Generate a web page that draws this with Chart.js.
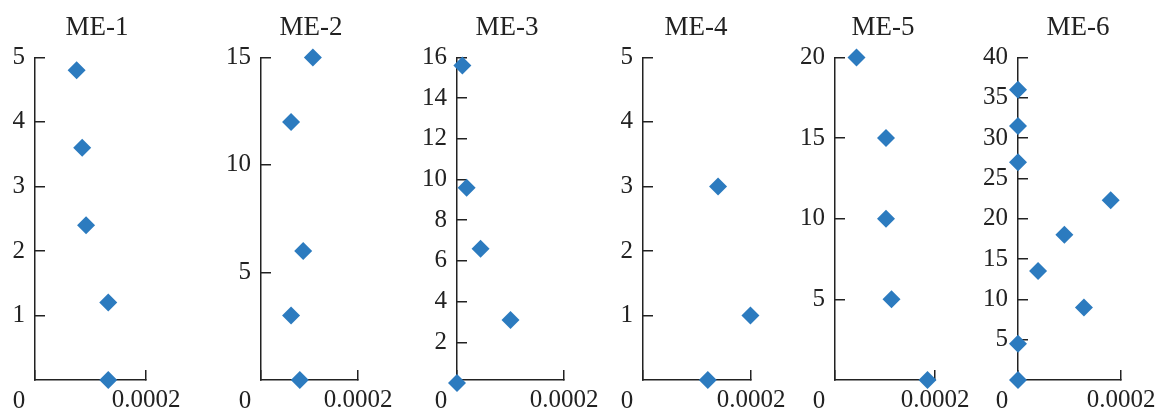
<!DOCTYPE html>
<html>
<head>
<meta charset="utf-8">
<script src="https://cdn.jsdelivr.net/npm/chart.js@4.4.0/dist/chart.umd.min.js"></script>
<style>
  html, body { margin: 0; padding: 0; background: #fff; }
  body { width: 1157px; height: 411px; position: relative; overflow: hidden; }
  canvas { position: absolute; top: 0; }
</style>
</head>
<body>
<script>
const titles = ["ME-1", "ME-2", "ME-3", "ME-4", "ME-5", "ME-6"];
const xTickValues = [0, 0.0002];
const xTickLabels = ["0", "0.0002"];

const me1X = [0.000075, 0.000085, 0.000092, 0.000132, 0.000132];
const me1Y = [4.8, 3.6, 2.4, 1.2, 0];
const me2X = [0.000107, 0.000062, 0.000087, 0.000062, 0.00008];
const me2Y = [15, 12, 6, 3, 0];
const me3X = [0.00001, 0.000018, 0.000044, 0.0001, 0];
const me3Y = [15.6, 9.6, 6.6, 3.1, 0];
const me4X = [0.000139, 0.000199, 0.00012];
const me4Y = [3, 1, 0];
const me5X = [0.000043, 0.000102, 0.000102, 0.000113, 0.000185];
const me5Y = [20, 15, 10, 5, 0];
const me6X = [0, 0, 0, 0.00018, 0.00009, 0.000039, 0.000128, 0, 0];
const me6Y = [36, 31.5, 27, 22.3, 18, 13.5, 9, 4.5, 0];

const yMins = [0, 0, 0.15, 0, 0, 0];
const yMaxs = [5, 15, 16, 5, 20, 40];
const yTicks = [
  [1, 2, 3, 4, 5],
  [5, 10, 15],
  [2, 4, 6, 8, 10, 12, 14, 16],
  [1, 2, 3, 4, 5],
  [5, 10, 15, 20],
  [5, 10, 15, 20, 25, 30, 35, 40]
];

const seriesX = [me1X, me2X, me3X, me4X, me5X, me6X];
const seriesY = [me1Y, me2Y, me3Y, me4Y, me5Y, me6Y];

// where each panel sits on the page: y axis, end of x axis, title centre
const panels = [
  { axisX: 35, xEnd: 146, titleX: 97 },
  { axisX: 261, xEnd: 358, titleX: 311 },
  { axisX: 457, xEnd: 564, titleX: 507 },
  { axisX: 643, xEnd: 751, titleX: 696 },
  { axisX: 835, xEnd: 935, titleX: 883 },
  { axisX: 1018, xEnd: 1121, titleX: 1078 }
];

const inkColor = "#222";
const pointColor = "#2c7bbf";
const fontFamily = '"Liberation Serif", "Times New Roman", serif';
const yAxisWidth = 60;
const xAxisHeight = 40;
const plotBottom = 380;
const H = plotBottom + xAxisHeight; // canvas runs a little past the page bottom

Chart.defaults.font.family = fontFamily;
Chart.defaults.color = inkColor;

const originLabel = {
  id: "originLabel",
  afterDraw(chart) {
    const x = chart.scales.x;
    const ctx = chart.ctx;
    ctx.save();
    ctx.font = "25px " + fontFamily;
    ctx.fillStyle = inkColor;
    ctx.textAlign = "center";
    ctx.textBaseline = "middle";
    ctx.fillText(xTickLabels[0], x.getPixelForValue(xTickValues[0]) - 16, x.top + 21);
    ctx.restore();
  }
};

panels.forEach((p, i) => {
  const left = p.axisX - yAxisWidth;
  const W = 2 * (p.titleX - left);
  const rightGap = left + W - p.xEnd;
  const canvas = document.createElement("canvas");
  canvas.width = W;
  canvas.height = H;
  canvas.style.left = left + "px";
  canvas.style.width = W + "px";
  canvas.style.height = H + "px";
  document.body.appendChild(canvas);

  const points = seriesX[i].map((x, k) => ({ x: x, y: seriesY[i][k] }));

  new Chart(canvas, {
    type: "scatter",
    data: {
      datasets: [{
        data: points,
        pointStyle: "rectRot",
        pointRadius: 9,
        pointHoverRadius: 9,
        borderWidth: 0,
        backgroundColor: pointColor,
        clip: false
      }]
    },
    options: {
      responsive: false,
      devicePixelRatio: 1,
      animation: false,
      plugins: {
        legend: { display: false },
        tooltip: { enabled: false },
        title: {
          display: true,
          text: titles[i],
          color: inkColor,
          font: { size: 27, weight: "normal" },
          padding: { top: 12, bottom: 13 }
        }
      },
      scales: {
        x: {
          type: "linear",
          min: xTickValues[0],
          max: xTickValues[1],
          border: { color: inkColor, width: 1.5 },
          grid: { drawOnChartArea: false, drawTicks: true, tickLength: -10, color: inkColor, lineWidth: 1.5 },
          afterBuildTicks: (s) => { s.ticks = xTickValues.map(v => ({ value: v })); },
          afterFit: (s) => { s.height = xAxisHeight; },
          ticks: {
            padding: 15,
            maxRotation: 0,
            font: { size: 25 },
            callback: (v) => v === xTickValues[1] ? xTickLabels[1] : ""
          }
        },
        y: {
          type: "linear",
          min: yMins[i],
          max: yMaxs[i],
          border: { color: inkColor, width: 1.5 },
          grid: { drawOnChartArea: false, drawTicks: true, tickLength: -10, color: inkColor, lineWidth: 1.5 },
          afterBuildTicks: (s) => { s.ticks = yTicks[i].map(v => ({ value: v })); },
          afterFit: (s) => { s.width = yAxisWidth; },
          ticks: {
            padding: 20,
            font: { size: 25 },
            callback: (v) => String(v)
          }
        },
        // empty right-hand box so the title centre can sit where the reference has it
        pad: {
          type: "linear",
          position: "right",
          ticks: { display: false },
          grid: { display: false },
          border: { display: false },
          afterFit: (s) => { s.width = rightGap; }
        }
      }
    },
    plugins: [originLabel]
  });
});
</script>
</body>
</html>
